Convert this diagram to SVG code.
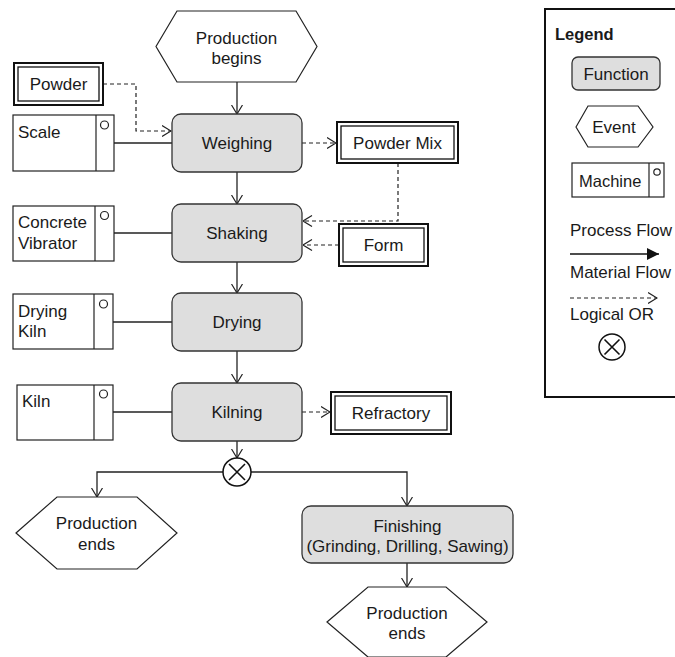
<svg xmlns="http://www.w3.org/2000/svg" width="675" height="657" viewBox="0 0 675 657">
  <style>
    text { font-family: "Liberation Sans", Arial, sans-serif; font-size: 17px; fill: #1a1a1a; }
    .c { text-anchor: middle; }
    .fn { fill: #dedede; stroke: #333; stroke-width: 1.3; }
    .ev { fill: #fff; stroke: #222; stroke-width: 1.2; }
    .mc { fill: #fff; stroke: #222; stroke-width: 1.2; }
    .mat-o { fill: #fff; stroke: #111; stroke-width: 2; }
    .mat-i { fill: none; stroke: #111; stroke-width: 1.3; }
    .flow { fill: none; stroke: #222; stroke-width: 1.3; }
    .mflow { fill: none; stroke: #222; stroke-width: 1.2; stroke-dasharray: 4 3; }
    .link { fill: none; stroke: #222; stroke-width: 1.3; }
    .xor { fill: #fff; stroke: #111; stroke-width: 1.5; }
  </style>
  <defs>
    <marker id="open" markerUnits="userSpaceOnUse" viewBox="0 0 10 12" refX="9.5" refY="6" markerWidth="10" markerHeight="12" orient="auto">
      <path d="M0.5,0.5 L9.5,6 L0.5,11.5" fill="none" stroke="#222" stroke-width="1.2"/>
    </marker>
    <marker id="solid" markerUnits="userSpaceOnUse" viewBox="0 0 12 12" refX="12" refY="6" markerWidth="12" markerHeight="12" orient="auto">
      <path d="M0,0 L12,6 L0,12 Z" fill="#111"/>
    </marker>
  </defs>

  <!-- connectors -->
  <g id="connectors">
    <!-- process flow -->
    <line class="flow" x1="237" y1="82" x2="237" y2="114" marker-end="url(#open)"/>
    <line class="flow" x1="237" y1="172" x2="237" y2="204" marker-end="url(#open)"/>
    <line class="flow" x1="237" y1="262" x2="237" y2="293" marker-end="url(#open)"/>
    <line class="flow" x1="237" y1="351" x2="237" y2="383" marker-end="url(#open)"/>
    <line class="flow" x1="237" y1="441" x2="237" y2="458" marker-end="url(#open)"/>
    <polyline class="flow" points="223,472 97,472 97,497" marker-end="url(#open)"/>
    <polyline class="flow" points="251,472 407,472 407,506" marker-end="url(#open)"/>
    <line class="flow" x1="407" y1="563" x2="407" y2="587" marker-end="url(#open)"/>
    <!-- material flow -->
    <polyline class="mflow" points="103,84 136,84 136,131 171,131" marker-end="url(#open)"/>
    <line class="mflow" x1="302" y1="143" x2="336" y2="143" marker-end="url(#open)"/>
    <polyline class="mflow" points="398,163 398,221 303,221" marker-end="url(#open)"/>
    <line class="mflow" x1="339" y1="245" x2="303" y2="245" marker-end="url(#open)"/>
    <line class="mflow" x1="302" y1="412" x2="330" y2="412" marker-end="url(#open)"/>
    <!-- machine links -->
    <line class="link" x1="114" y1="143" x2="172" y2="143"/>
    <line class="link" x1="114" y1="233" x2="172" y2="233"/>
    <line class="link" x1="113" y1="322" x2="172" y2="322"/>
    <line class="link" x1="113" y1="412" x2="172" y2="412"/>
  </g>

  <!-- events -->
  <g id="production-begins">
    <polygon class="ev" points="156,46.5 177,11 296,11 317,46.5 296,82 177,82"/>
    <text class="c" x="236.5" y="44">Production</text>
    <text class="c" x="236.5" y="64">begins</text>
  </g>
  <g id="production-ends-left">
    <polygon class="ev" points="16,533 57,497 137,497 177,533 137,569 57,569"/>
    <text class="c" x="96.5" y="529">Production</text>
    <text class="c" x="96.5" y="550">ends</text>
  </g>
  <g id="production-ends-right">
    <polygon class="ev" points="327,622 368,587 446,587 487,622 446,657 368,657"/>
    <text class="c" x="407" y="619">Production</text>
    <text class="c" x="407" y="639">ends</text>
  </g>

  <!-- functions -->
  <g id="weighing">
    <rect class="fn" x="172" y="114" width="130" height="58" rx="9"/>
    <text class="c" x="237" y="149">Weighing</text>
  </g>
  <g id="shaking">
    <rect class="fn" x="172" y="204" width="130" height="58" rx="9"/>
    <text class="c" x="237" y="239">Shaking</text>
  </g>
  <g id="drying">
    <rect class="fn" x="172" y="293" width="130" height="58" rx="9"/>
    <text class="c" x="237" y="328">Drying</text>
  </g>
  <g id="kilning">
    <rect class="fn" x="172" y="383" width="130" height="58" rx="9"/>
    <text class="c" x="237" y="418">Kilning</text>
  </g>
  <g id="finishing">
    <rect class="fn" x="302" y="506" width="211" height="57" rx="9"/>
    <text class="c" x="407.5" y="532">Finishing</text>
    <text class="c" x="407.5" y="552">(Grinding, Drilling, Sawing)</text>
  </g>

  <!-- logical OR -->
  <g id="xor">
    <circle class="xor" cx="237" cy="472" r="14"/>
    <path d="M229,464 L245,480 M245,464 L229,480" stroke="#111" stroke-width="1.6"/>
  </g>

  <!-- materials -->
  <g id="powder">
    <rect class="mat-o" x="14" y="63" width="89" height="42"/>
    <rect class="mat-i" x="18" y="67" width="81" height="34"/>
    <text class="c" x="58.5" y="90">Powder</text>
  </g>
  <g id="powder-mix">
    <rect class="mat-o" x="337" y="122" width="121" height="41"/>
    <rect class="mat-i" x="341" y="126" width="113" height="33"/>
    <text class="c" x="397.5" y="149">Powder Mix</text>
  </g>
  <g id="form">
    <rect class="mat-o" x="339" y="224" width="89" height="42"/>
    <rect class="mat-i" x="343" y="228" width="81" height="34"/>
    <text class="c" x="383.5" y="251">Form</text>
  </g>
  <g id="refractory">
    <rect class="mat-o" x="331" y="392" width="120" height="42"/>
    <rect class="mat-i" x="335" y="396" width="112" height="34"/>
    <text class="c" x="391" y="419">Refractory</text>
  </g>

  <!-- machines -->
  <g id="scale">
    <rect class="mc" x="13" y="115" width="101" height="56"/>
    <line class="mc" x1="96" y1="115" x2="96" y2="171"/>
    <circle class="mc" cx="104.5" cy="125" r="4"/>
    <text x="18" y="138">Scale</text>
  </g>
  <g id="concrete-vibrator">
    <rect class="mc" x="13" y="206" width="101" height="55"/>
    <line class="mc" x1="95" y1="206" x2="95" y2="261"/>
    <circle class="mc" cx="104.5" cy="215.5" r="4"/>
    <text x="18" y="228">Concrete</text>
    <text x="18" y="249">Vibrator</text>
  </g>
  <g id="drying-kiln">
    <rect class="mc" x="13" y="294" width="100" height="55"/>
    <line class="mc" x1="94" y1="294" x2="94" y2="349"/>
    <circle class="mc" cx="103.5" cy="304" r="4"/>
    <text x="18" y="317">Drying</text>
    <text x="18" y="337">Kiln</text>
  </g>
  <g id="kiln">
    <rect class="mc" x="17" y="385" width="96" height="55"/>
    <line class="mc" x1="94" y1="385" x2="94" y2="440"/>
    <circle class="mc" cx="103.5" cy="394" r="4"/>
    <text x="22" y="407">Kiln</text>
  </g>

  <!-- legend -->
  <g id="legend">
    <rect x="545" y="9" width="140" height="388" fill="#fff" stroke="#111" stroke-width="2"/>
    <text x="555" y="40" style="font-weight:bold; font-size:16.5px">Legend</text>
    <rect class="fn" x="572" y="57" width="88" height="33" rx="6"/>
    <text class="c" x="616" y="80">Function</text>
    <polygon class="ev" points="576,127 588,106 638,106 653,127 638,147 588,147"/>
    <text class="c" x="614" y="133">Event</text>
    <rect class="mc" x="572" y="163" width="92" height="34"/>
    <line class="mc" x1="649" y1="163" x2="649" y2="197"/>
    <circle class="mc" cx="657" cy="172" r="3.2"/>
    <text x="579" y="187" style="font-size:16.5px">Machine</text>
    <text x="570" y="236">Process Flow</text>
    <line x1="570" y1="254" x2="659" y2="254" stroke="#111" stroke-width="1.6" marker-end="url(#solid)"/>
    <text x="570" y="278">Material Flow</text>
    <line class="mflow" x1="570" y1="298" x2="657" y2="298" marker-end="url(#open)"/>
    <text x="570" y="320">Logical OR</text>
    <circle class="xor" cx="612" cy="347" r="13"/>
    <path d="M604.5,339.5 L619.5,354.5 M619.5,339.5 L604.5,354.5" stroke="#111" stroke-width="1.6"/>
  </g>
</svg>
